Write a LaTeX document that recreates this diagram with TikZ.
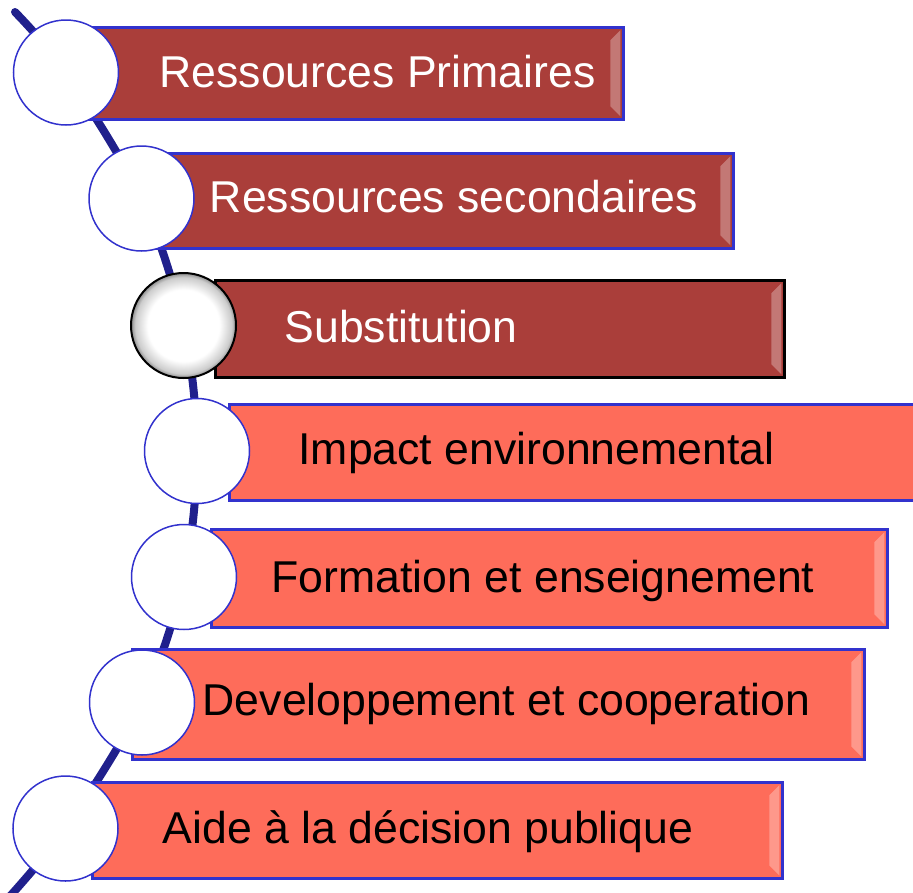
\documentclass[tikz,border=0pt]{standalone}
\usepackage{fontspec}
\setmainfont{Liberation Sans}
\definecolor{darkbar}{RGB}{170,62,58}
\definecolor{lightbar}{RGB}{254,108,90}
\definecolor{bordblue}{RGB}{50,50,205}
\definecolor{spine}{RGB}{32,32,140}
\pgfdeclareradialshading{pearl}{\pgfpoint{0bp}{0bp}}{color(0bp)=(white); color(17bp)=(white); color(23bp)=(black!20); color(25bp)=(black!45); color(50bp)=(black!45)}
\begin{document}
\begin{tikzpicture}[x=1pt,y=-1pt,
    bar/.style={draw=bordblue,line width=2.5,anchor=north west,inner sep=0,
      path picture={\fill[white,opacity=.3]
        ([shift={(-3pt,-3pt)}]path picture bounding box.north east)
        -- ([shift={(-3pt,3pt)}]path picture bounding box.south east)
        -- ([shift={(-13pt,13pt)}]path picture bounding box.south east)
        -- ([shift={(-13pt,-13pt)}]path picture bounding box.north east) -- cycle;}},
    hot/.style={bar,fill=darkbar},
    cool/.style={bar,fill=lightbar},
    bead/.style={circle,draw=bordblue,fill=white,line width=1.5,minimum size=105,inner sep=0},
    word/.style={anchor=base,font=\fontsize{44.6}{50}\selectfont}]
    \useasboundingbox (0,0) rectangle (913,892);
    \clip (0,0) rectangle (913,892);
    % circles along the spine
    \coordinate (top) at (15,12);
    \coordinate (bot) at (2,905);
    \coordinate (c1) at (66,72.5);
    \coordinate (c2) at (141.5,198.5);
    \coordinate (c3) at (183.5,325.5);
    \coordinate (c4) at (197,451);
    \coordinate (c5) at (184,577);
    \coordinate (c6) at (142,702.5);
    \coordinate (c7) at (65.5,828.5);
    \draw[spine,line width=8,line cap=round] plot[smooth,tension=0.55] coordinates {(top) (c1) (c2) (c3) (c4) (c5) (c6) (c7) (bot)};
    % bars
    \node[hot,minimum width=542,minimum height=92] (b1) at (80,26) {};
    \node[hot,minimum width=582,minimum height=95] (b2) at (150,152) {};
    \node[hot,draw=black,minimum width=569,minimum height=97] (b3) at (214,279) {};
    \node[cool,minimum width=702,minimum height=96] (b4) at (228,403) {};
    \node[cool,minimum width=676,minimum height=98] (b5) at (210,528) {};
    \node[cool,minimum width=732,minimum height=110] (b6) at (131,648) {};
    \node[cool,minimum width=690,minimum height=96] (b7) at (91,781) {};
    \node[bead] (k1) at (c1) {};
    \node[bead] (k2) at (c2) {};
    \node[bead,draw=black,line width=2,shading=pearl] (k3) at (c3) {};
    \node[bead] (k4) at (c4) {};
    \node[bead] (k5) at (c5) {};
    \node[bead] (k6) at (c6) {};
    \node[bead] (k7) at (c7) {};
    % labels
    \node[word,white] (t1) at (377.5,87) {Ressources Primaires};
    \node[word,white] (t2) at (454,212) {Ressources secondaires};
    \node[word,white] (t3) at (401,342) {Substitution};
    \node[word] (t4) at (536.5,464) {Impact environnemental};
    \node[word] (t5) at (543,592) {Formation et enseignement};
    \node[word] (t6) at (506.5,715) {Developpement et cooperation};
    \node[word] (t7) at (428,843) {Aide à la décision publique};
\end{tikzpicture}
\end{document}
